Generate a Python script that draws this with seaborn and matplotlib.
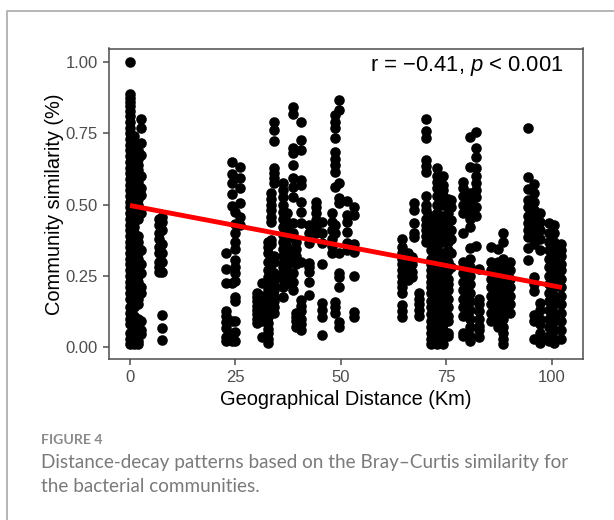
import matplotlib
matplotlib.use("Agg")
import matplotlib.pyplot as plt
import pandas as pd
import seaborn as sns

sns.set_theme(style="white")
plt.rcParams['font.family'] = ['Liberation Sans', 'DejaVu Sans']
plt.rcParams['mathtext.fontset'] = 'custom'
plt.rcParams['mathtext.it'] = 'Liberation Sans:italic'
plt.rcParams['mathtext.rm'] = 'Liberation Sans'

# Each strip: distance (km) and the similarities read at that distance
strips = [
 (0.0, [1.00,.89,.875,.86,.845,.83,.81,.79,.77,.75,.73,.71,.69,.67,.65,.63,.61,.59,.57,.55,.53,.51,.49,.47,.45,.43,.41,.39,.37,.35,.33,.31,.29,.27,.25,.23,.21,.19,.17,.14,.12,.10,.08,.05,.03,.01]),
 (1.0, [.74,.72,.70,.68,.66,.64,.62,.60,.58,.56,.54,.52,.50,.48,.46,.44,.42,.40,.38,.36,.34,.32,.30,.28,.26,.24,.22,.20,.18,.16,.14,.11,.09,.07,.05,.03,.01]),
 (1.9, [.71,.69,.66,.64,.62,.60,.58,.56,.54,.52,.50,.47,.45,.39,.37,.35,.33,.31,.29,.27,.25,.23,.21,.19,.17,.15,.10,.08,.06,.04,.02,.01]),
 (2.6, [.80,.77,.715,.675,.60,.56,.535,.47,.34,.29,.26,.21,.19,.09,.06,.045]),
 (6.8, [.45,.43,.40,.38,.35,.33,.30,.28,.265]),
 (7.5, [.455,.44,.41,.36,.33,.30,.265,.112,.068,.025]),
 (22.7, [.33,.274,.225,.126,.11,.088,.067,.035,.02]),
 (24.2, [.65,.607,.575,.537,.495,.225,.09,.045,.02]),
 (24.8, [.474,.432,.40,.37,.345,.305,.28,.26,.232,.176,.16,.09,.053,.021]),
 (26.0, [.633,.593,.56,.505,.458,.43]),
 (30.0, [.19,.175,.16,.145,.13,.115,.10,.085]),
 (31.3, [.225,.18,.165,.15,.135,.12,.105,.09,.035]),
 (32.8, [.37,.35,.33,.30,.27,.245,.225,.205,.185,.165,.145,.125,.105,.085,.065,.05,.03,.015]),
 (33.3, [.54,.52,.50,.48,.457,.44,.376,.36,.27,.25,.23,.20,.175]),
 (34.2, [.79,.762,.723,.628,.61,.595,.575,.32,.30,.26,.24,.22,.20,.18,.16,.14,.12]),
 (36.2, [.575,.55,.525,.50,.475,.45,.42,.395,.37,.345,.32,.295,.28,.26,.24,.21,.175]),
 (37.2, [.47,.44,.41,.38,.35,.32,.29,.27,.25,.225]),
 (38.6, [.844,.818,.70,.68,.64,.593,.562,.527,.435,.40,.33,.30,.26,.23,.20]),
 (39.3, [.37,.345,.32,.29,.12,.105,.09,.07]),
 (40.6, [.79,.727,.692,.586,.57,.51,.474,.435,.30,.165,.145,.125,.10,.08,.06]),
 (42.4, [.295,.28,.265,.228,.183,.43,.40,.365]),
 (44.0, [.51,.49,.47,.445,.42,.40]),
 (45.6, [.44,.40,.365,.29,.155,.13,.105,.042]),
 (47.8, [.47,.44,.41,.38,.355,.33]),
 (48.7, [.685,.66,.64,.615,.562,.815,.79,.77,.734,.43,.40,.158,.14,.12]),
 (49.6, [.867,.832,.575,.523,.505,.26,.245,.21,.088,.07,.33]),
 (51.4, [.513,.463,.44,.405,.365,.34]),
 (53.0, [.49,.463,.36,.335,.25,.123,.105]),
 (64.5, [.38,.35,.33,.31,.29,.27,.25,.23,.21,.19,.147,.125,.105]),
 (65.8, [.33,.31,.29,.27,.25,.235]),
 (66.8, [.315,.29,.265,.245]),
 (67.2, [.505,.48,.435,.40,.387]),
 (68.4, [.19,.17,.15,.13,.11]),
 (70.2, [.80,.76,.733,.657,.635,.615,.53,.50,.48,.45,.43,.41,.39,.37]),
 (71.3, [.46,.43,.40,.37,.34,.31,.29,.27,.25,.23,.21,.19,.16,.14,.115,.09,.07,.05,.03,.01]),
 (72.8, [.628,.60,.58,.56,.53,.50,.47,.44,.41,.38,.35,.32,.30,.28,.26,.24,.22,.20,.18,.16,.14,.12,.10,.08,.05,.03,.01]),
 (74.2, [.60,.57,.55,.53,.50,.46,.43,.40,.37,.33,.31,.29,.27,.25,.23,.21,.19,.17,.15,.12,.10,.08,.06,.04,.01]),
 (75.4, [.52,.47,.44,.395,.37,.34,.30,.27,.24,.22,.20,.17,.14,.11,.09,.05,.04]),
 (76.2, [.515,.49,.445,.41,.38,.33,.28]),
 (78.9, [.58,.56,.53,.50,.47,.40,.30,.26,.23,.20,.17,.14,.11,.05,.04]),
 (80.5, [.738,.633,.54,.51,.48,.45,.42,.347,.31,.28,.25,.22,.19,.16,.13,.10,.07,.04,.02]),
 (82.0, [.755,.70,.667,.63,.60,.575,.55,.525,.49,.46,.355]),
 (82.8, [.275,.17,.15,.125,.10,.075,.06,.035]),
 (85.6, [.35,.30,.27,.24,.21,.18,.15,.12,.09]),
 (87.2, [.345,.30,.275,.25,.22,.19,.16,.13,.10,.07]),
 (88.3, [.40,.37,.31,.28,.25,.22,.19,.16,.13,.10,.07,.05,.03,.01]),
 (90.0, [.30,.27,.24,.21,.18,.15,.12]),
 (94.3, [.77,.597,.555,.516,.49,.46,.435,.41,.385,.347,.305]),
 (95.8, [.573,.54,.51,.48,.45,.42,.39,.36,.245,.22,.195,.112,.09,.03]),
 (97.2, [.47,.44,.41,.38,.34,.155,.13,.10,.08,.05,.03,.015]),
 (99.3, [.435,.40,.37,.34,.31,.28,.25,.22,.19,.16,.13,.10,.07,.04,.02]),
 (100.6, [.43,.40,.37,.34,.31,.28,.26,.24,.21,.18,.15,.12,.09,.06,.03,.015]),
 (102.2, [.36,.34,.32,.29,.27,.24,.21,.18,.15,.12,.09,.06,.03]),
]
distance = [x for x, ys in strips for _ in ys]
similarity = [y for _, ys in strips for y in ys]
fit_x = [0, 102.4]
fit_y = [0.497, 0.209]
x_ticks = [0, 25, 50, 75, 100]
y_ticks = [0.00, 0.25, 0.50, 0.75, 1.00]
caption_label = "FIGURE 4"
caption = ["Distance-decay patterns based on the Bray–Curtis similarity for",
           "the bacterial communities."]

W, H = 614, 520
fig = plt.figure(figsize=(W/100, H/100), dpi=100, facecolor="white")
ax = fig.add_axes([109/W, 1-359.3/H, (582.7-109)/W, (359.3-48.5)/H])

df = pd.DataFrame({"d": distance, "s": similarity})
sns.scatterplot(data=df, x="d", y="s", ax=ax, color="black", s=58, linewidth=0,
                legend=False, clip_on=False)
sns.lineplot(x=fit_x, y=fit_y, ax=ax, color="#ff0000", linewidth=3.5, zorder=5,
             solid_capstyle="butt")

ax.set_xlim(-4.98, 107.3)
ax.set_ylim(-0.043, 1.048)
ax.set_xticks(x_ticks, [str(t) for t in x_ticks])
ax.set_yticks(y_ticks, [f"{t:.2f}" for t in y_ticks])
ax.tick_params(axis="both", length=4, width=1.1, color="#4d4d4d", labelcolor="#4d4d4d",
               labelsize=12, pad=4, left=True, bottom=True)
for s in ax.spines.values():
    s.set_visible(True)
    s.set_color("#4d4d4d")
    s.set_linewidth(1.1)
ax.set_facecolor("white")
ax.grid(False)
ax.set_xlabel("Geographical Distance (Km)", fontsize=14.4, color="black", labelpad=3.5)
ax.set_ylabel("Community similarity (%)", fontsize=14.4, color="black", labelpad=1)

fig.text(564/W, 1-65.5/H, r"r = −0.41, $\mathit{p}$ < 0.001", fontsize=15.8, color="black",
         ha="right", va="center")

# Card outline of the article figure
fig.add_artist(plt.Line2D([6.5/W, 6.5/W, 1], [0, 1-11.3/H, 1-11.3/H],
                          color="#b0b0b0", lw=1.3, transform=fig.transFigure))

fig.text(41/W, 1-440/H, caption_label, fontsize=10.2, fontweight="bold", color="#8a8a8a",
         family="Lato", ha="left", va="center")
for i, line in enumerate(caption):
    fig.text(41/W, 1-(462.5+24*i)/H, line, fontsize=13.6, color="#7a7a7a", family="Lato",
             ha="left", va="center")

fig.savefig("out.png", dpi=100, facecolor="white")
